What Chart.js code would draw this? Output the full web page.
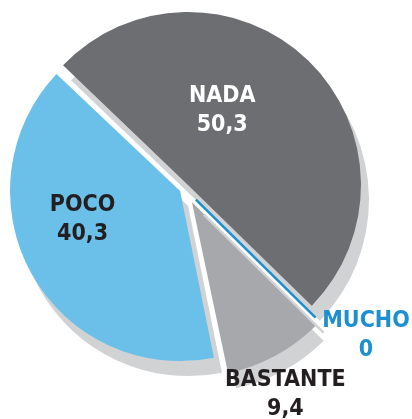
<!DOCTYPE html>
<html>
<head>
<meta charset="utf-8">
<script src="https://cdn.jsdelivr.net/npm/chart.js@4.4.0/dist/chart.umd.min.js"></script>
<style>
  html, body { margin: 0; padding: 0; background: #fff; }
  #wrap { width: 412px; height: 419px; }
</style>
</head>
<body>
<div id="wrap"><canvas id="myChart" width="412" height="419"></canvas></div>
<script>
// datos
var categorias = ['NADA', 'MUCHO', 'BASTANTE', 'POCO'];
var valores = [50.3, 0, 9.4, 40.3];

// estilo
var colores = ['#6d6e72', '#1b8fd1', '#a6a8ab', '#6bc0ea'];
var coloresTexto = ['#ffffff', '#1b8fd1', '#231f20', '#231f20'];
var separacion = [20, 64, 62, 20];   // offset de chart.js (se traslada offset/4)
var colorSombra = '#d1d2d4';

// posicion de etiquetas: giro (grados) respecto al centro del sector y factor de radio
var posEtiquetas = [
  { giro: -19, radio: 0.53 },
  { giro: -6.1, radio: 1.38 },
  { giro: 2.1, radio: 1.35 },
  { giro: 13.5, radio: 0.63 }
];

function formatoValor(v) {
  return String(v).replace('.', ',');
}

var sombraPlugin = {
  id: 'sombra',
  beforeDatasetDraw: function(chart) {
    var ctx = chart.ctx;
    ctx.save();
    ctx.shadowColor = colorSombra;
    ctx.shadowBlur = 0;
    ctx.shadowOffsetX = 8;
    ctx.shadowOffsetY = 15;
  },
  afterDatasetDraw: function(chart) {
    var ctx = chart.ctx;
    var meta = chart.getDatasetMeta(0);
    // sector de valor 0 (MUCHO): chart.js no lo pinta, se dibuja como una linea
    for (var i = 0; i < valores.length; i++) {
      if (valores[i] !== 0) continue;
      var arc = meta.data[i];
      var ang = arc.startAngle;
      var t = separacion[i] / 4;
      var x0 = arc.x + Math.cos(ang) * t;
      var y0 = arc.y + Math.sin(ang) * t;
      ctx.beginPath();
      ctx.moveTo(x0, y0);
      ctx.lineTo(x0 + Math.cos(ang) * arc.outerRadius, y0 + Math.sin(ang) * arc.outerRadius);
      ctx.strokeStyle = colores[i];
      ctx.lineWidth = 2.5;
      ctx.stroke();
    }
    ctx.restore();
  }
};

var etiquetasPlugin = {
  id: 'etiquetas',
  afterDraw: function(chart) {
    var ctx = chart.ctx;
    var meta = chart.getDatasetMeta(0);
    ctx.save();
    ctx.font = 'bold 23px "DejaVu Sans Condensed", "DejaVu Sans", sans-serif';
    ctx.textAlign = 'center';
    ctx.textBaseline = 'alphabetic';
    for (var i = 0; i < categorias.length; i++) {
      var arc = meta.data[i];
      var mid = (arc.startAngle + arc.endAngle) / 2 + posEtiquetas[i].giro * Math.PI / 180;
      var r = arc.outerRadius * posEtiquetas[i].radio;
      var cx = arc.x + Math.cos(mid) * r;
      var cy = arc.y + Math.sin(mid) * r;
      ctx.fillStyle = coloresTexto[i];
      ctx.fillText(categorias[i], cx, cy - 14.5 + 8.5);
      ctx.fillText(formatoValor(valores[i]), cx, cy + 14.5 + 8.5);
    }
    ctx.restore();
  }
};

var ctx = document.getElementById('myChart').getContext('2d');
var chart = new Chart(ctx, {
  type: 'pie',
  data: {
    labels: categorias,
    datasets: [{
      data: valores,
      backgroundColor: colores,
      borderWidth: 0,
      offset: separacion
    }]
  },
  options: {
    responsive: false,
    animation: false,
    rotation: -46.5,
    radius: 168,
    layout: { padding: { left: 0, right: 43, top: 0, bottom: 42 } },
    plugins: {
      legend: { display: false },
      tooltip: { enabled: false }
    }
  },
  plugins: [sombraPlugin, etiquetasPlugin]
});
</script>
</body>
</html>
